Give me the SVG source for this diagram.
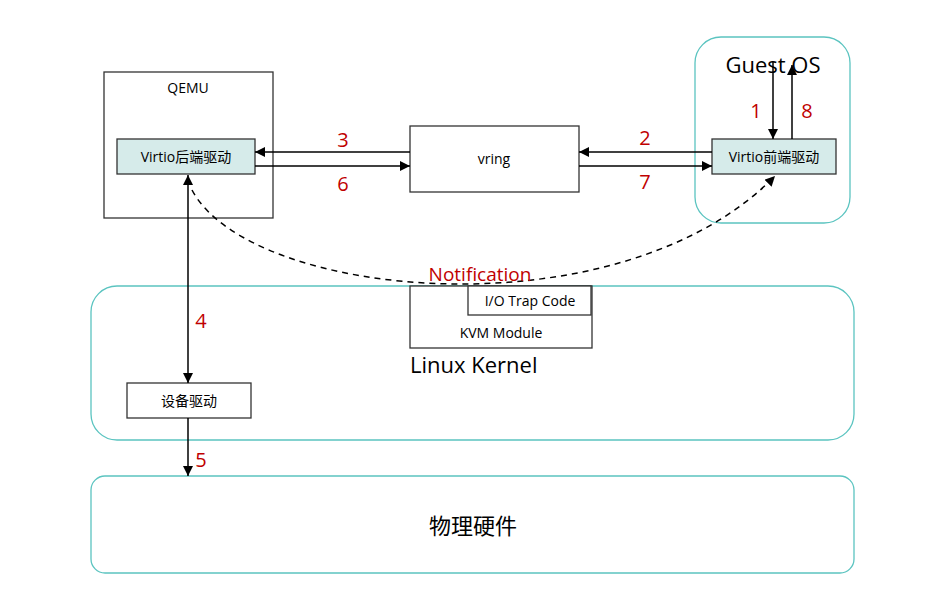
<svg xmlns="http://www.w3.org/2000/svg" width="941" height="606" viewBox="0 0 941 606">
<defs>
<marker id="ah" viewBox="0 0 10 10" refX="10" refY="5" markerWidth="10" markerHeight="10" markerUnits="userSpaceOnUse" orient="auto-start-reverse">
<path d="M0,0 L10,5 L0,10 Z" fill="#000"/>
</marker>
</defs>
<style>
text{font-family:"Open Sans","Noto Sans","Noto Sans CJK SC",sans-serif;fill:#000}
.box{fill:#fff;stroke:#333;stroke-width:1.3}
.drv{fill:#d6ebea;stroke:#333;stroke-width:1.3}
.round{fill:#fff;stroke:#5bc4c0;stroke-width:1.3}
.num{fill:#c00000;font-size:20px}
.sm{font-size:14px}
.ln{stroke:#000;stroke-width:1.5;fill:none}
</style>
<rect width="941" height="606" fill="#fff"/>
<g id="guestos"><rect class="round" x="695" y="37" width="155" height="186" rx="26"/><text x="773" y="73" font-size="22" text-anchor="middle">Guest OS</text></g>
<g id="kernel"><rect class="round" x="91" y="286" width="763" height="154" rx="26"/><text x="410" y="373" font-size="22">Linux Kernel</text></g>
<g id="hw"><rect class="round" x="91" y="476" width="763" height="97" rx="14"/><text x="473" y="534" font-size="22" text-anchor="middle">物理硬件</text></g>
<g id="qemu"><rect class="box" x="104" y="72" width="169" height="146"/><text class="sm" x="188" y="93" text-anchor="middle">QEMU</text></g>
<g id="backend"><rect class="drv" x="117" y="139" width="138" height="35"/><text class="sm" x="186" y="162" text-anchor="middle">Virtio后端驱动</text></g>
<g id="vring"><rect class="box" x="410" y="126" width="169" height="66"/><text class="sm" x="494" y="164" text-anchor="middle">vring</text></g>
<g id="frontend"><rect class="drv" x="712" y="139" width="124" height="35"/><text class="sm" x="774" y="162" text-anchor="middle">Virtio前端驱动</text></g>
<g id="kvm"><rect class="box" x="410" y="286" width="182" height="62"/><text class="sm" x="501" y="338" text-anchor="middle">KVM Module</text></g>
<g id="iotrap"><rect class="box" x="468" y="286" width="123" height="29"/><text class="sm" x="530" y="306" text-anchor="middle">I/O Trap Code</text></g>
<g id="devdrv"><rect class="box" x="127" y="383" width="124" height="35"/><text class="sm" x="189" y="406" text-anchor="middle">设备驱动</text></g>
<g id="connectors">
<line class="ln" x1="410" y1="152" x2="255" y2="152" marker-end="url(#ah)"/>
<line class="ln" x1="255" y1="166" x2="410" y2="166" marker-end="url(#ah)"/>
<line class="ln" x1="712" y1="152" x2="579" y2="152" marker-end="url(#ah)"/>
<line class="ln" x1="579" y1="166" x2="712" y2="166" marker-end="url(#ah)"/>
<line class="ln" x1="773" y1="62" x2="773" y2="139" marker-end="url(#ah)"/>
<line class="ln" x1="792" y1="139" x2="792" y2="65" marker-end="url(#ah)"/>
<line class="ln" x1="188" y1="383" x2="188" y2="175" marker-start="url(#ah)" marker-end="url(#ah)"/>
<line class="ln" x1="188" y1="418" x2="188" y2="476" marker-end="url(#ah)"/>
<path class="ln" d="M192,190 C250,300 620,335 775,176" stroke-dasharray="6,5" marker-end="url(#ah)"/>
<text class="num" x="343" y="147" text-anchor="middle">3</text>
<text class="num" x="343" y="191" text-anchor="middle">6</text>
<text class="num" x="645" y="145" text-anchor="middle">2</text>
<text class="num" x="645" y="189" text-anchor="middle">7</text>
<text class="num" x="756" y="118" text-anchor="middle">1</text>
<text class="num" x="807" y="118" text-anchor="middle">8</text>
<text class="num" x="201" y="328" text-anchor="middle">4</text>
<text class="num" x="201" y="467" text-anchor="middle">5</text>
<text x="480" y="281" font-size="19" style="fill:#c00000" text-anchor="middle">Notification</text>
</g>
</svg>
